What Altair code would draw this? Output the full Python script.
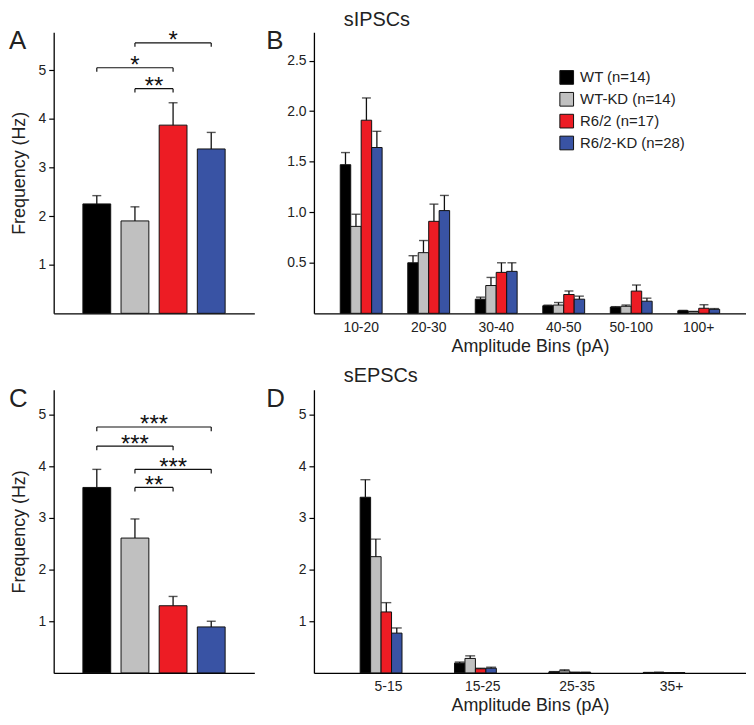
import altair as alt
import pandas as pd

FONT = "Liberation Sans"
INK = "#111111"

# ---------------- data ----------------
groups = ["WT (n=14)", "WT-KD (n=14)", "R6/2 (n=17)", "R6/2-KD (n=28)"]
colors = ["#000000", "#c0c0c0", "#ed1c24", "#3953a4"]

# Panel A: sIPSC frequency (Hz)
a_mean = [2.25, 1.90, 3.87, 3.38]
a_err = [0.17, 0.29, 0.46, 0.34]
a_br_from = [0, 1, 1]
a_br_to = [2, 2, 3]
a_br_h = [5.05, 4.62, 5.56]
a_br_lab = ["*", "**", "*"]

# Panel B: sIPSC amplitude bins
b_bins = ["10-20", "20-30", "30-40", "40-50", "50-100", "100+"]
b_wt = [1.47, 0.50, 0.14, 0.075, 0.062, 0.026]
b_wt_err = [0.12, 0.07, 0.02, 0.006, 0.004, 0.003]
b_wtkd = [0.86, 0.60, 0.275, 0.082, 0.070, 0.016]
b_wtkd_err = [0.12, 0.12, 0.08, 0.025, 0.012, 0.003]
b_r62 = [1.91, 0.91, 0.405, 0.186, 0.22, 0.05]
b_r62_err = [0.22, 0.17, 0.095, 0.035, 0.06, 0.035]
b_r62kd = [1.64, 1.016, 0.415, 0.14, 0.12, 0.04]
b_r62kd_err = [0.16, 0.15, 0.085, 0.03, 0.03, 0.007]

# Panel C: sEPSC frequency (Hz)
c_mean = [3.59, 2.61, 1.30, 0.89]
c_err = [0.35, 0.37, 0.18, 0.11]
c_br_from = [0, 0, 1, 1]
c_br_to = [3, 2, 3, 2]
c_br_h = [4.76, 4.39, 3.94, 3.59]
c_br_lab = ["***", "***", "***", "**"]

# Panel D: sEPSC amplitude bins
d_bins = ["5-15", "15-25", "25-35", "35+"]
d_wt = [3.40, 0.19, 0.02, 0.006]
d_wt_err = [0.34, 0.02, 0.005, 0.002]
d_wtkd = [2.25, 0.28, 0.04, 0.01]
d_wtkd_err = [0.34, 0.05, 0.02, 0.003]
d_r62 = [1.18, 0.08, 0.01, 0.003]
d_r62_err = [0.18, 0.01, 0.003, 0.001]
d_r62kd = [0.77, 0.09, 0.01, 0.003]
d_r62kd_err = [0.10, 0.02, 0.003, 0.001]

color_scale = alt.Scale(domain=groups, range=colors)


def label_layer(text, x, y, size, align="left"):
    return alt.Chart(pd.DataFrame({"t": [text]})).mark_text(
        align=align, baseline="alphabetic", fontSize=size, font=FONT, color="#222"
    ).encode(x=alt.value(x), y=alt.value(y), text="t:N")


def freq_panel(means, errs, bfrom, bto, bh, blab, ymax, width, height, letter):
    df = pd.DataFrame({
        "idx": list(range(len(groups))),
        "group": groups,
        "mean": means,
        "top": [m + e for m, e in zip(means, errs)],
    })
    bdf = pd.DataFrame({"a": bfrom, "b": bto, "h": bh, "lab": blab})
    bdf["mid"] = (bdf["a"] + bdf["b"]) / 2
    bdf["low"] = bdf["h"] - 0.08

    xs = alt.Scale(domain=[-1, 4], nice=False, zero=False)
    ys = alt.Scale(domain=[0, ymax], nice=False)
    x = alt.X("idx:Q", scale=xs,
              axis=alt.Axis(title=None, labels=False, ticks=False, grid=False))
    y = alt.Y("mean:Q", scale=ys,
              axis=alt.Axis(values=[1, 2, 3, 4, 5], title="Frequency (Hz)",
                            titleX=-29, titleY=height / 2, format="d",
                            titleBaseline="alphabetic", grid=False))

    bars = alt.Chart(df).mark_bar(size=28, stroke=INK, strokeWidth=1).encode(
        x=x, y=y,
        color=alt.Color("group:N", scale=color_scale, legend=None),
    )
    err = alt.Chart(df).mark_rule(color=INK, strokeWidth=1.3).encode(
        x="idx:Q", y="mean:Q", y2="top:Q")
    cap = alt.Chart(df).mark_tick(orient="horizontal", size=9, thickness=1.4,
                                  color=INK).encode(x="idx:Q", y="top:Q")
    horiz = alt.Chart(bdf).mark_rule(color=INK, strokeWidth=1.2).encode(
        x="a:Q", x2="b:Q", y="h:Q")
    drop_a = alt.Chart(bdf).mark_rule(color=INK, strokeWidth=1.2).encode(
        x="a:Q", y="h:Q", y2="low:Q")
    drop_b = alt.Chart(bdf).mark_rule(color=INK, strokeWidth=1.2).encode(
        x="b:Q", y="h:Q", y2="low:Q")
    stars = alt.Chart(bdf).mark_text(fontSize=24, font=FONT, baseline="alphabetic",
                                     dy=5.5, color=INK).encode(
        x="mid:Q", y="h:Q", text="lab:N")
    let = label_layer(letter, -45, 17, 26)
    return alt.layer(bars, err, cap, horiz, drop_a, drop_b, stars, let).properties(
        width=width, height=height)


def amp_panel(bins, series, errs, ymax, width, height, yticks, letter, title,
              title_y, pi, po, capw, legend):
    rows = []
    for g, vals, es in zip(groups, series, errs):
        for b, v, e in zip(bins, vals, es):
            rows.append({"bin": b, "group": g, "mean": v, "top": v + e})
    df = pd.DataFrame(rows)

    x = alt.X("bin:N", sort=bins,
              scale=alt.Scale(paddingInner=pi, paddingOuter=po),
              axis=alt.Axis(title="Amplitude Bins (pA)", labelAngle=0, ticks=False,
                            labelPadding=7, titleY=38, titleBaseline="alphabetic",
                            grid=False))
    xo = alt.XOffset("group:N", sort=groups,
                     scale=alt.Scale(paddingInner=0, paddingOuter=0))
    y = alt.Y("mean:Q", scale=alt.Scale(domain=[0, ymax], nice=False),
              axis=alt.Axis(values=yticks, title=None, grid=False,
                            format=".1f" if ymax < 3 else "d"))
    if legend:
        leg = alt.Legend(title=None, orient="none", legendX=247, legendY=38,
                         symbolType="square", symbolSize=190,
                         symbolStrokeColor=INK, symbolStrokeWidth=1,
                         symbolOpacity=1, labelFontSize=15, labelFont=FONT,
                         labelColor="#222", rowPadding=3, labelOffset=6)
    else:
        leg = None
    bars = alt.Chart(df).mark_bar(stroke=INK, strokeWidth=1).encode(
        x=x, xOffset=xo, y=y,
        color=alt.Color("group:N", scale=color_scale, sort=groups, legend=leg),
    )
    err = alt.Chart(df).mark_rule(color=INK, strokeWidth=1.3).encode(
        x=alt.X("bin:N", sort=bins), xOffset=xo, y="mean:Q", y2="top:Q")
    cap = alt.Chart(df).mark_tick(size=capw, thickness=1.4, color=INK).encode(
        x=alt.X("bin:N", sort=bins), xOffset=xo, y="top:Q")
    ttl = label_layer(title, 30, title_y, 20)
    let = label_layer(letter, -48, 17, 26)
    return alt.layer(bars, err, cap, ttl, let).properties(width=width, height=height)


A = freq_panel(a_mean, a_err, a_br_from, a_br_to, a_br_h, a_br_lab,
               5.78, 202, 283, "A")
B = amp_panel(b_bins, [b_wt, b_wtkd, b_r62, b_r62kd],
              [b_wt_err, b_wtkd_err, b_r62_err, b_r62kd_err],
              2.78, 435, 283, [0.5, 1.0, 1.5, 2.0, 2.5], "B", "sIPSCs", -6,
              0.38, 0.39, 9, True)
C = freq_panel(c_mean, c_err, c_br_from, c_br_to, c_br_h, c_br_lab,
               5.48, 202, 285, "C")
D = amp_panel(d_bins, [d_wt, d_wtkd, d_r62, d_r62kd],
              [d_wt_err, d_wtkd_err, d_r62_err, d_r62kd_err],
              5.48, 435, 285, [1, 2, 3, 4, 5], "D", "sEPSCs", -8,
              0.40, 0.49, 10, False)

chart = alt.concat(
    A, B, C, D, columns=2, bounds="flush",
    spacing={"row": 77, "column": 60},
).resolve_scale(
    color="independent", x="independent", y="independent"
).resolve_legend(color="independent").properties(
    padding={"left": 1, "top": 0, "right": 0, "bottom": 0}
).configure(font=FONT).configure_view(stroke=None).configure_axis(
    domainColor="#000000", domainWidth=1.3, tickColor="#000000", tickSize=5,
    tickWidth=1.2, labelFont=FONT, labelFontSize=14, labelColor="#222",
    labelPadding=3, titleFont=FONT, titleFontSize=18, titleFontWeight="normal",
    titleColor="#222"
)

chart.save("out.html", embed_options={"renderer": "svg", "actions": False})
